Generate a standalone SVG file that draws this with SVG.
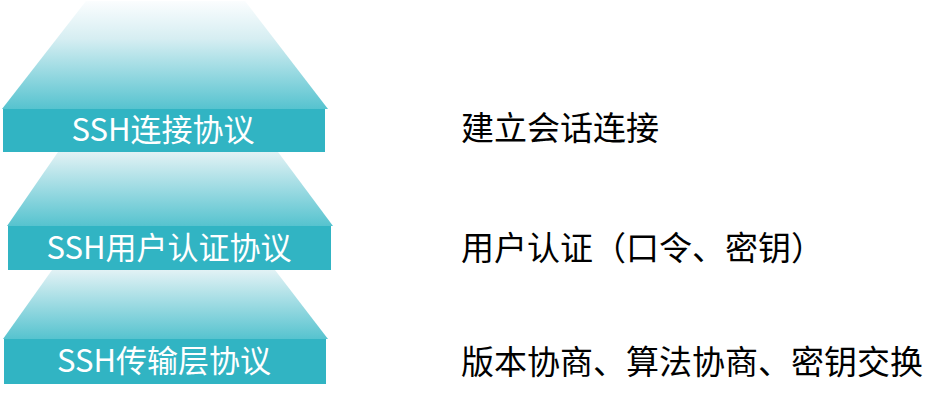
<svg xmlns="http://www.w3.org/2000/svg" width="947" height="403" viewBox="0 0 947 403">
<defs>
<linearGradient id="g1" x1="0" y1="0" x2="0" y2="1">
<stop offset="0" stop-color="#fbfdfe"/>
<stop offset="0.35" stop-color="#d6eef2"/>
<stop offset="1" stop-color="#56c3cf"/>
</linearGradient>
<linearGradient id="g2" x1="0" y1="0" x2="0" y2="1">
<stop offset="0" stop-color="#e2f2f5"/>
<stop offset="1" stop-color="#56c3cf"/>
</linearGradient>
</defs>
<style>
.band{fill:#31b4c3;}
.lbl{font-family:"Noto Sans CJK SC","Noto Sans",sans-serif;font-size:31px;fill:#ffffff;text-anchor:middle;}
.desc{font-family:"Noto Sans CJK SC","Noto Sans",sans-serif;font-size:33px;fill:#000000;}
</style>
<rect width="947" height="403" fill="#ffffff"/>
<g id="layer-transport">
<polygon points="52,270 275,270 328,339 3,339" fill="url(#g2)"/>
<rect class="band" x="4" y="339" width="322" height="45"/>
<text class="lbl" x="164" y="372">SSH传输层协议</text>
</g>
<g id="layer-userauth">
<polygon points="58,152 278,152 333,226 7,226" fill="url(#g2)"/>
<rect class="band" x="8" y="226" width="323" height="44"/>
<text class="lbl" x="169" y="259">SSH用户认证协议</text>
</g>
<g id="layer-connection">
<polygon points="86,1 245,1 328,109 2,109" fill="url(#g1)"/>
<rect class="band" x="3" y="109" width="322" height="43"/>
<text class="lbl" x="163" y="141">SSH连接协议</text>
</g>
<g id="desc-connection"><text class="desc" x="461" y="140">建立会话连接</text></g>
<g id="desc-userauth"><text class="desc" x="461" y="260">用户认证（口令、密钥）</text></g>
<g id="desc-transport"><text class="desc" x="461" y="374">版本协商、算法协商、密钥交换</text></g>
</svg>
